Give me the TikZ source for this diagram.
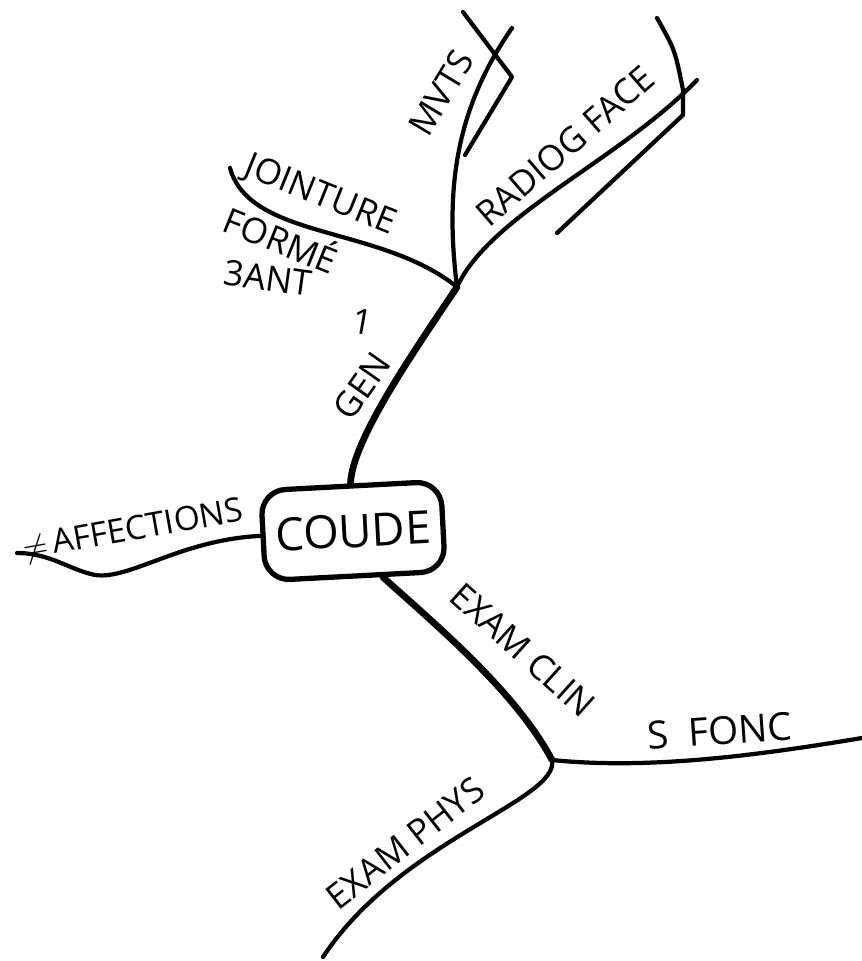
\documentclass[tikz,border=0pt]{standalone}
\usepackage{fontspec}
\setmainfont{Open Sans}
\usetikzlibrary{arrows.meta}

\begin{document}
\begin{tikzpicture}[x=0.01cm,y=-0.01cm,line cap=round,line join=round,
  trunk/.style={line width=1.9pt},
  branch/.style={line width=1.2pt},
  lbl/.style={inner sep=0pt,font=\fontsize{10}{12}\selectfont},
  rootbox/.style={draw,line width=1.5pt,rounded corners=7pt,inner sep=2pt,
    minimum width=1.8cm,minimum height=0.9cm,font=\fontsize{13}{16}\selectfont}]
  \useasboundingbox (0,0) rectangle (862,961);

  % Central box
  \node[rootbox,rotate=3] (coude) at (353,531) {COUDE};

  % Junctions and free ends
  \coordinate (jtop) at (457,287);
  \coordinate (jlow) at (552,760);
  \coordinate (joint) at (230,168);
  \coordinate (mvts) at (512,28);
  \coordinate (radio) at (697,80);
  \coordinate (affec) at (17,553);
  \coordinate (fonc) at (862,738);
  \coordinate (phys) at (323,957);

  % Upper part
  \draw[trunk] (coude.north) .. controls (352,440) and (415,350) .. (jtop);
  \draw[branch] (jtop) .. controls (380,225) and (250,240) .. (joint);
  \draw[branch] (jtop) .. controls (445,190) and (455,110) .. (mvts);
  \draw[branch] (jtop) .. controls (490,215) and (620,160) .. (radio);

  % Brackets around the upper ends
  \draw[branch] (463,12) -- (512,77) -- (465,155);
  \draw[branch] (657,18) .. controls (675,50) .. (683,90) -- (683,115) -- (557,233);

  % Left part
  \draw[branch] (coude.west) .. controls (180,540) and (130,580) .. (95,575)
    .. controls (70,570) and (50,553) .. (affec);

  % Lower part
  \draw[trunk] (coude.300) .. controls (430,620) and (515,690) .. (jlow);
  \draw[branch] (jlow) .. controls (650,770) and (760,755) .. (fonc);
  \draw[branch] (jlow) .. controls (560,800) and (400,840) .. (phys);

  % Labels
  \node[lbl,rotate=10,font=\fontsize{9.5}{12}\selectfont] (laffec) at (133,531) {$\neq$\,AFFECTIONS};
  \node[lbl,rotate=-42] (lclin) at (523,650) {EXAM CLIN};
  \node[lbl,rotate=4,font=\fontsize{11}{13}\selectfont] (lfonc) at (720,731) {S\ \ FONC};
  \node[lbl,rotate=38] (lphys) at (405,843) {EXAM PHYS};
  \node[lbl,rotate=41] (lradio) at (565,146) {RADIOG FACE};
  \node[lbl,rotate=59] (lmvts) at (441,93) {MVTS};
  \node[lbl,rotate=-22] (ljoint) at (320,196) {JOINTURE};
  \node[lbl,rotate=-22] (lforme) at (282,238) {FORMÉ};
  \node[lbl,rotate=-8] (lant) at (268,278) {3ANT};
  \node[lbl,rotate=55] (lgen) at (362,386) {GEN};
  \node[lbl,rotate=-10] (lone) at (363,322) {1};
\end{tikzpicture}
\end{document}
